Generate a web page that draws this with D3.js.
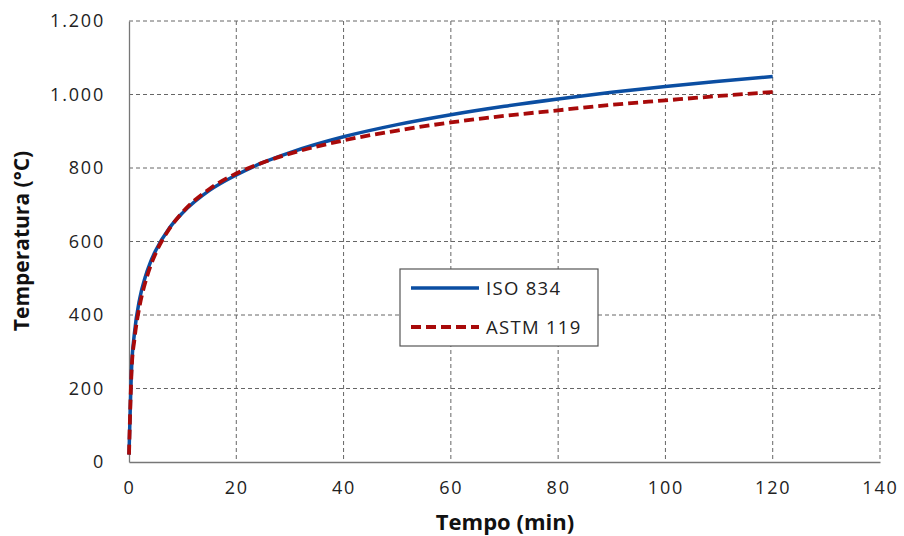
<!DOCTYPE html>
<html><head><meta charset="utf-8">
<script src="https://cdn.jsdelivr.net/npm/d3@7"></script>
<style>body{margin:0;background:#fff;} svg{display:block;}</style>
</head><body>
<svg id="c" width="904" height="536"></svg>
<script>
const isoTime  = [0,0.5,1,2,3,4,5,7.5,10,15,20,25,30,40,50,60,70,80,90,100,110,120];
const isoTemp  = [20,261,349,445,502,544,576,636,678,739,781,815,842,885,918,945,968,988,1006,1022,1036,1049];
const astmTime = [0,0.5,1,2,3,4,5,7.5,10,15,20,25,30,40,50,60,70,80,90,100,110,120];
const astmTemp = [20,255,332,426,487,533,569,634,680,743,785,815,839,875,902,924,942,957,972,984,996,1007];
const xTicks = [0,20,40,60,80,100,120,140];
const yTicks = [0,200,400,600,800,1000,1200];
const yTickLabels = ["0","200","400","600","800","1.000","1.200"];
const seriesNames = ["ISO 834","ASTM 119"];

const svg = d3.select("#c");
const L=129, R=880, T=21, B=462;
const x = d3.scaleLinear().domain([0,140]).range([L,R]);
const y = d3.scaleLinear().domain([0,1200]).range([B,T]);
const font = "'Open Sans', sans-serif";

// gridlines
const g = svg.append("g");
g.selectAll("line.h").data(yTicks.filter(d=>d>0)).enter().append("line")
  .attr("x1",L).attr("x2",R).attr("y1",d=>y(d)).attr("y2",d=>y(d))
  .attr("stroke","#666").attr("stroke-width",1).attr("stroke-dasharray","4,3");
g.selectAll("line.v").data(xTicks.filter(d=>d>0)).enter().append("line")
  .attr("x1",d=>x(d)).attr("x2",d=>x(d)).attr("y1",T).attr("y2",B)
  .attr("stroke","#666").attr("stroke-width",1).attr("stroke-dasharray","4,3");

// axes
const xAxis = d3.axisBottom(x).tickValues(xTicks).tickSize(0).tickPadding(19);
const yAxis = d3.axisLeft(y).tickValues(yTicks).tickSize(0).tickPadding(24)
  .tickFormat((d)=>yTickLabels[yTicks.indexOf(d)]);
const gx = svg.append("g").attr("transform",`translate(0,${B})`).call(xAxis);
const gy = svg.append("g").attr("transform",`translate(${L},0)`).call(yAxis);
[gx,gy].forEach(a=>{
  a.select(".domain").attr("stroke","#777").attr("stroke-width",1.3);
  a.selectAll("text").attr("font-family",font).attr("font-size",18)
   .attr("letter-spacing","1.8px").attr("fill","#222");
});

// lines
const line = d3.line().x(d=>x(d[0])).y(d=>y(d[1])).curve(d3.curveMonotoneX);
const isoData = isoTime.map((t,i)=>[t,isoTemp[i]]);
const astmData = astmTime.map((t,i)=>[t,astmTemp[i]]);
svg.append("path").datum(isoData).attr("d",line).attr("fill","none")
  .attr("stroke","#0b4ea2").attr("stroke-width",3.5);
svg.append("path").datum(astmData).attr("d",line).attr("fill","none")
  .attr("stroke","#a80a0a").attr("stroke-width",3.8).attr("stroke-dasharray","10,5");

// legend
const lg = svg.append("g");
lg.append("rect").attr("x",400).attr("y",269).attr("width",198).attr("height",77)
  .attr("fill","#fff").attr("stroke","#555").attr("stroke-width",1.2);
lg.append("line").attr("x1",411).attr("x2",479).attr("y1",288).attr("y2",288)
  .attr("stroke","#0b4ea2").attr("stroke-width",3.5);
lg.append("line").attr("x1",411).attr("x2",479).attr("y1",327).attr("y2",327)
  .attr("stroke","#a80a0a").attr("stroke-width",3.8).attr("stroke-dasharray","10,5");
lg.selectAll("text").data(seriesNames).enter().append("text")
  .attr("x",486).attr("y",(d,i)=>i?327:288).attr("dy","0.36em")
  .attr("font-family",font).attr("font-size",18.5).attr("letter-spacing","1.3px")
  .attr("fill","#222").text(d=>d);

// titles
svg.append("text").attr("x",505).attr("y",530).attr("text-anchor","middle")
  .attr("font-family",font).attr("font-weight","bold").attr("font-size",22).attr("fill","#111")
  .text("Tempo (min)");
svg.append("text").attr("transform","translate(29,241) rotate(-90)").attr("text-anchor","middle")
  .attr("font-family",font).attr("font-weight","bold").attr("font-size",21).attr("fill","#111")
  .text("Temperatura (°C)");
</script>
</body></html>
